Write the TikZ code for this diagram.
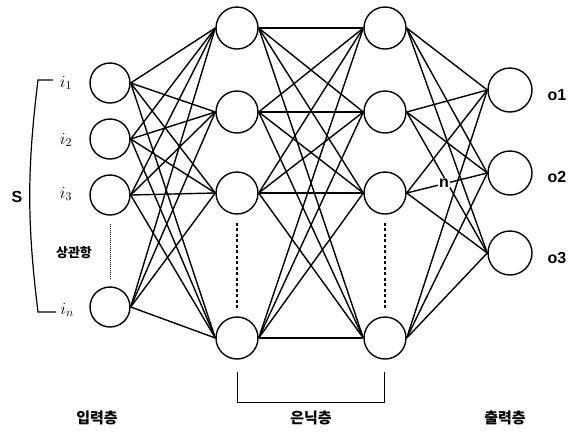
\RequirePackage{fix-cm}
\documentclass[tikz,border=0pt]{standalone}
\usepackage{fontspec}
\setsansfont{Liberation Sans}
\newfontfamily\krfont{Noto Sans CJK KR}
\usetikzlibrary{calc}
\tikzset{
  neuron/.style={circle,draw,line width=1.4pt,inner sep=0pt,fill=white},
  link/.style={line width=1.4pt},
  inlabel/.style={font=\fontsize{17}{19}\selectfont},
  krlabel/.style={font=\krfont\bfseries\fontsize{15}{17}\selectfont},
  outlabel/.style={font=\sffamily\bfseries\fontsize{16}{18}\selectfont}
}

\begin{document}
\begin{tikzpicture}[x=1pt,y=-1pt]
\useasboundingbox (0,0) rectangle (576,432);

% Input layer
\node[neuron,minimum size=40pt] (I1) at (110,83) {};
\node[neuron,minimum size=40pt] (I2) at (110,139) {};
\node[neuron,minimum size=40pt] (I3) at (110,195) {};
\node[neuron,minimum size=40pt] (I4) at (110,307) {};

% Hidden layers
\foreach \k/\y in {1/28,2/112,3/193,4/338} {
  \node[neuron,minimum size=42pt] (A\k) at (237,\y) {};
  \node[neuron,minimum size=42pt] (B\k) at (385,\y) {};
}

% Output layer
\node[neuron,minimum size=44pt] (O1) at (510,90) {};
\node[neuron,minimum size=44pt] (O2) at (510,173) {};
\node[neuron,minimum size=44pt] (O3) at (510,253) {};

% Draw connections
\foreach \a in {1,...,4} {
  \foreach \b in {1,...,4} {
    \draw[link] (I\a.east) -- (A\b.west);
    \draw[link] (A\a.east) -- (B\b.west);
  }
  \foreach \b in {1,2,3}
    \draw[link] (B\a.east) -- (O\b.west);
}

% Label n over the links
\node[outlabel,fill=white,inner sep=1pt] (n) at (444,183) {n};

% Dotted gaps in the layers
\draw[line width=0.6pt,dash pattern=on 1pt off 1pt] ($(I3.south)+(0,8)$) -- ($(I4.north)+(0,-7)$);
\draw[line width=1.3pt,dash pattern=on 3pt off 2.5pt] ($(A3.south)+(0,8)$) -- ($(A4.north)+(0,-8)$);
\draw[line width=1.3pt,dash pattern=on 3pt off 2.5pt] ($(B3.south)+(0,8)$) -- ($(B4.north)+(0,-8)$);

% Input labels
\node[inlabel] (l1) at (66,83) {$i_1$};
\node[inlabel] (l2) at (66,140) {$i_2$};
\node[inlabel] (l3) at (66,194) {$i_3$};
\node[inlabel] (l4) at (67,310) {$i_n$};
\node[font=\krfont\bfseries\fontsize{13}{15}\selectfont] (corr) at (74,253) {상관항};

% Bracket S
\coordinate (s1) at (53,80);
\coordinate (s2) at (38,80);
\coordinate (s3) at (38,312);
\coordinate (s4) at (56,312);
\draw[line width=1.2pt] (s1) -- (s2) to[bend right=7] (s3) -- (s4);
\node[outlabel] (S) at (17,197) {S};

% Output labels
\node[outlabel] (o1) at (557,95) {o1};
\node[outlabel] (o2) at (557,177) {o2};
\node[outlabel] (o3) at (557,258) {o3};

% Bracket under hidden layers
\coordinate (h1) at (237,372);
\coordinate (h2) at (237,402);
\coordinate (h3) at (384,402);
\coordinate (h4) at (384,372);
\draw[line width=1pt] (h1) -- (h2) -- (h3) -- (h4);

% Layer names
\node[krlabel] (inL) at (97,418) {입력층};
\node[krlabel] (hidL) at (311,418) {은닉층};
\node[krlabel] (outL) at (505,418) {출력층};

\end{tikzpicture}
\end{document}
